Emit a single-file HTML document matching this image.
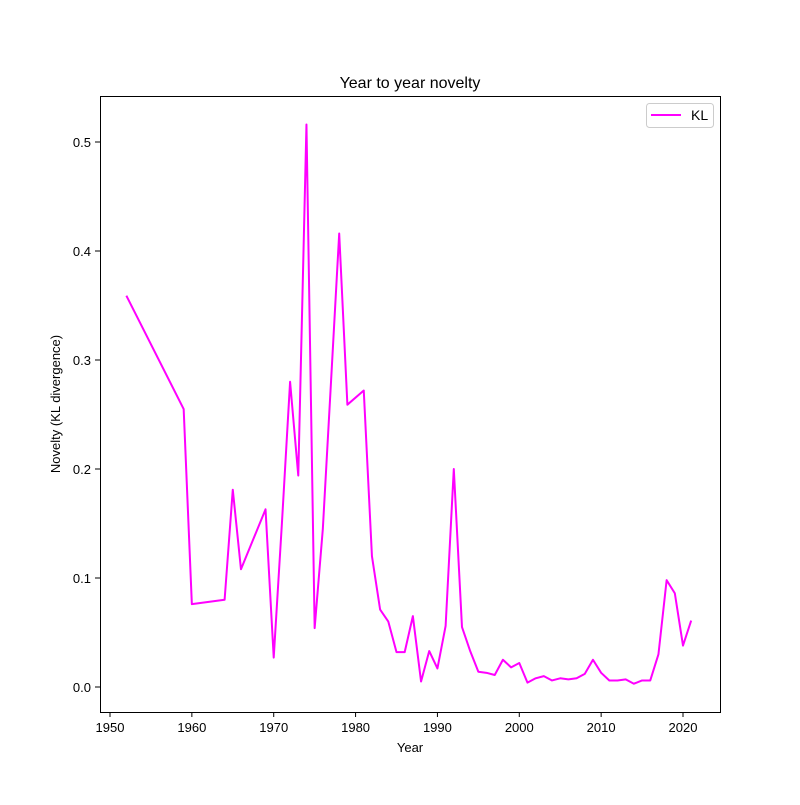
<!DOCTYPE html>
<html><head><meta charset="utf-8"><style>
body{margin:0;background:#fff;}
svg text{font-family:"Liberation Sans","DejaVu Sans",sans-serif;fill:#000;}
</style></head><body>
<svg id="chart" width="800" height="800" xmlns="http://www.w3.org/2000/svg">
<rect width="800" height="800" fill="#fff"/>
<text x="410" y="88" font-size="16" text-anchor="middle">Year to year novelty</text>
<g id="axes"></g>
<polyline id="line" fill="none" stroke="#ff00ff" stroke-width="2" stroke-linejoin="round"/>
<rect x="100.5" y="96.5" width="620" height="616" fill="none" stroke="#000" stroke-width="1"/>
<g>
<rect x="646.5" y="103.5" width="67" height="24" rx="3" fill="#fff" stroke="#ccc"/>
<line x1="651" y1="115" x2="681" y2="115" stroke="#ff00ff" stroke-width="2"/>
<text x="691" y="120" font-size="14">KL</text>
</g>
<text x="410" y="752" font-size="13" text-anchor="middle">Year</text>
<text transform="translate(60,404) rotate(-90)" font-size="13" text-anchor="middle">Novelty (KL divergence)</text>
</svg>
<script>
const years=[1952,1959,1960,1964,1965,1966,1969,1970,1971,1972,1973,1974,1975,1976,1977,1978,1979,1981,1982,1983,1984,1985,1986,1987,1988,1989,1990,1991,1992,1993,1994,1995,1996,1997,1998,1999,2000,2001,2002,2003,2004,2005,2006,2007,2008,2009,2010,2011,2012,2013,2014,2015,2016,2017,2018,2019,2020,2021];
const klValues=[0.359,0.255,0.076,0.080,0.181,0.108,0.163,0.027,0.150,0.280,0.194,0.516,0.054,0.145,0.280,0.416,0.259,0.272,0.120,0.071,0.060,0.032,0.032,0.065,0.005,0.033,0.017,0.056,0.200,0.055,0.033,0.014,0.013,0.011,0.025,0.018,0.022,0.004,0.008,0.010,0.006,0.008,0.007,0.008,0.012,0.025,0.013,0.006,0.006,0.007,0.003,0.006,0.006,0.030,0.098,0.086,0.038,0.061];
const xTicks=[1950,1960,1970,1980,1990,2000,2010,2020];
const yTicks=[0.0,0.1,0.2,0.3,0.4,0.5];
const xS=v=>110+(v-1950)*(573/70);
const yS=v=>687-v*1090;
const NS="http://www.w3.org/2000/svg";
const axes=document.getElementById('axes');
xTicks.forEach(t=>{
 const l=document.createElementNS(NS,'line');
 
 
 l.setAttribute('x1',xS(t));l.setAttribute('x2',xS(t));l.setAttribute('y1',712);l.setAttribute('y2',717);l.setAttribute('stroke','#000');
 axes.appendChild(l);
 const tx=document.createElementNS(NS,'text');
 
 
 tx.setAttribute('x',xS(t));tx.setAttribute('y',732);tx.setAttribute('font-size','13');tx.setAttribute('text-anchor','middle');
 tx.textContent=t;axes.appendChild(tx);
});
yTicks.forEach(t=>{
 const l=document.createElementNS(NS,'line');
 
 
 l.setAttribute('x1',95);l.setAttribute('x2',100);l.setAttribute('y1',yS(t));l.setAttribute('y2',yS(t));l.setAttribute('stroke','#000');
 axes.appendChild(l);
 const tx=document.createElementNS(NS,'text');
 
 
 tx.setAttribute('x',91);tx.setAttribute('y',yS(t)+5);tx.setAttribute('font-size','13');tx.setAttribute('text-anchor','end');
 tx.textContent=t.toFixed(1);axes.appendChild(tx);
});
document.getElementById('line').setAttribute('points',years.map((y,i)=>xS(y)+','+yS(klValues[i])).join(' '));
</script>
</body></html>
